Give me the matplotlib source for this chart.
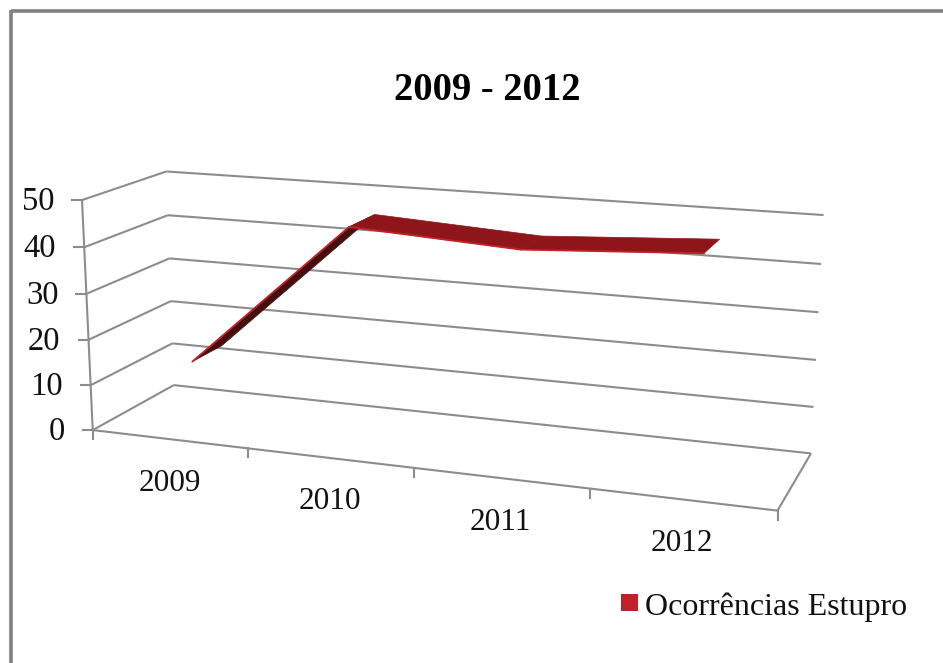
import numpy as np
import matplotlib
matplotlib.use("Agg")
import matplotlib.pyplot as plt
from matplotlib.patches import Polygon, Rectangle

plt.rcParams["font.family"] = ["Liberation Serif", "DejaVu Serif"]

# Chart content
title = "2009 - 2012"
categories = ["2009", "2010", "2011", "2012"]
series_name = "Ocorrências Estupro"
values = [14, 46, 44, 46]
value_ticks = [0, 10, 20, 30, 40, 50]
value_max = 50

# Styling
GRID = "#8c8c8c"
FACE = "#8e161b"
UNDER = "#43100f"
EDGE = "#c8202a"
LEGEND = "#c0202a"

W, H = 943, 663
fig = plt.figure(figsize=(W / 100, H / 100), dpi=100)
ax = fig.add_axes([0, 0, 1, 1])
ax.set_xlim(0, W)
ax.set_ylim(H, 0)
ax.axis("off")

# Camera calibration for the 3D box: (across, height, depth) -> screen position
box_model = np.array([
    [0, 0, 0], [0, 1, 0], [0, 0, 1], [0, 1, 1],
    [1, 0, 0], [1, 0, 1], [1, 1, 1],
    [.25, 0, 0], [.5, 0, 0], [.75, 0, 0],
    [1, .5, 1], [0, .5, 1], [0, .5, 0],
], float)
box_screen = np.array([
    [93, 429.5], [81.5, 200], [173, 385], [166, 172],
    [777, 510.5], [811, 453], [823.5, 215],
    [248, 449], [414, 469], [590, 488.5],
    [817.5, 336], [171, 280], [88, 316],
], float)


def fit_camera(model, screen):
    rows, rhs = [], []
    for (a, b, c), (x, y) in zip(model, screen):
        rows.append([a, b, c, 1, 0, 0, 0, 0, -x * a, -x * b, -x * c])
        rows.append([0, 0, 0, 0, a, b, c, 1, -y * a, -y * b, -y * c])
        rhs += [x, y]
    p = np.linalg.lstsq(np.array(rows), np.array(rhs), rcond=None)[0]
    return np.append(p, 1.0).reshape(3, 4)


CAM = fit_camera(box_model, box_screen)


def project(across, value, depth):
    pt = CAM @ np.array([across, value / value_max, depth, 1.0])
    return pt[:2] / pt[2]


def box_line(a, b, **kw):
    ax.plot(*np.array([project(*a), project(*b)]).T, solid_capstyle="butt", **kw)


line_kw = dict(color=GRID, lw=1.5)

# Value gridlines on the two walls, with tick marks and labels on the left
for v in value_ticks:
    box_line((0, v, 0), (0, v, 1), **line_kw)
    box_line((0, v, 1), (1, v, 1), **line_kw)
    x, y = project(0, v, 0)
    ax.plot([x - 10, x], [y, y], **line_kw)
    ax.text(x - 28, y + 1.5, str(v), ha="right", va="center", fontsize=23.5, color="#111111")

# Box outline: left upright, floor front and floor right side
box_line((0, 0, 0), (0, value_max, 0), **line_kw)
box_line((0, 0, 0), (1, 0, 0), **line_kw)
box_line((1, 0, 0), (1, 0, 1), **line_kw)

# Category ticks and labels under the floor front edge
n = len(categories)
for i in range(n + 1):
    x, y = project(i / n, 0, 0)
    ax.plot([x, x], [y, y + 9], **line_kw)
for i, cat in enumerate(categories):
    x, y = project((i + 0.5) / n, 0, 0)
    ax.text(x, y + 44, cat, ha="center", va="center", fontsize=22.5, color="#111111")

# Ribbon: one flat strip per year-to-year step
DEPTH_FRONT, DEPTH_BACK = 0.31, 0.69
centres = [(i + 0.5) / n for i in range(n)]
front = [project(c, v, DEPTH_FRONT) for c, v in zip(centres, values)]
back = [project(c, v, DEPTH_BACK) for c, v in zip(centres, values)]
for i in range(n - 1):
    rising = values[i + 1] > values[i] + 5
    quad = [front[i], front[i + 1], back[i + 1], back[i]]
    ax.add_patch(Polygon(quad, closed=True, fc=UNDER if rising else FACE,
                         ec=UNDER if rising else FACE, lw=0.5, zorder=3))
    ax.plot(*np.array([front[i], front[i + 1]]).T, color=EDGE, lw=1.3, zorder=4,
            solid_capstyle="round")

# Title
ax.text(487, 90, title, ha="center", va="center", fontsize=27.8, fontweight="bold",
        color="black")

# Legend
ax.add_patch(Rectangle((621, 594), 17, 17, fc=LEGEND, ec="none"))
ax.text(645, 607, series_name, ha="left", va="center", fontsize=23, color="#111111")

# Frame: only the top and left edges fall inside the canvas
ax.plot([10.8, W], [10.8, 10.8], color="#808080", lw=2.6, solid_capstyle="butt")
ax.plot([10.8, 10.8], [9.5, H], color="#808080", lw=2.6, solid_capstyle="butt")

fig.savefig("out.png", dpi=100)
